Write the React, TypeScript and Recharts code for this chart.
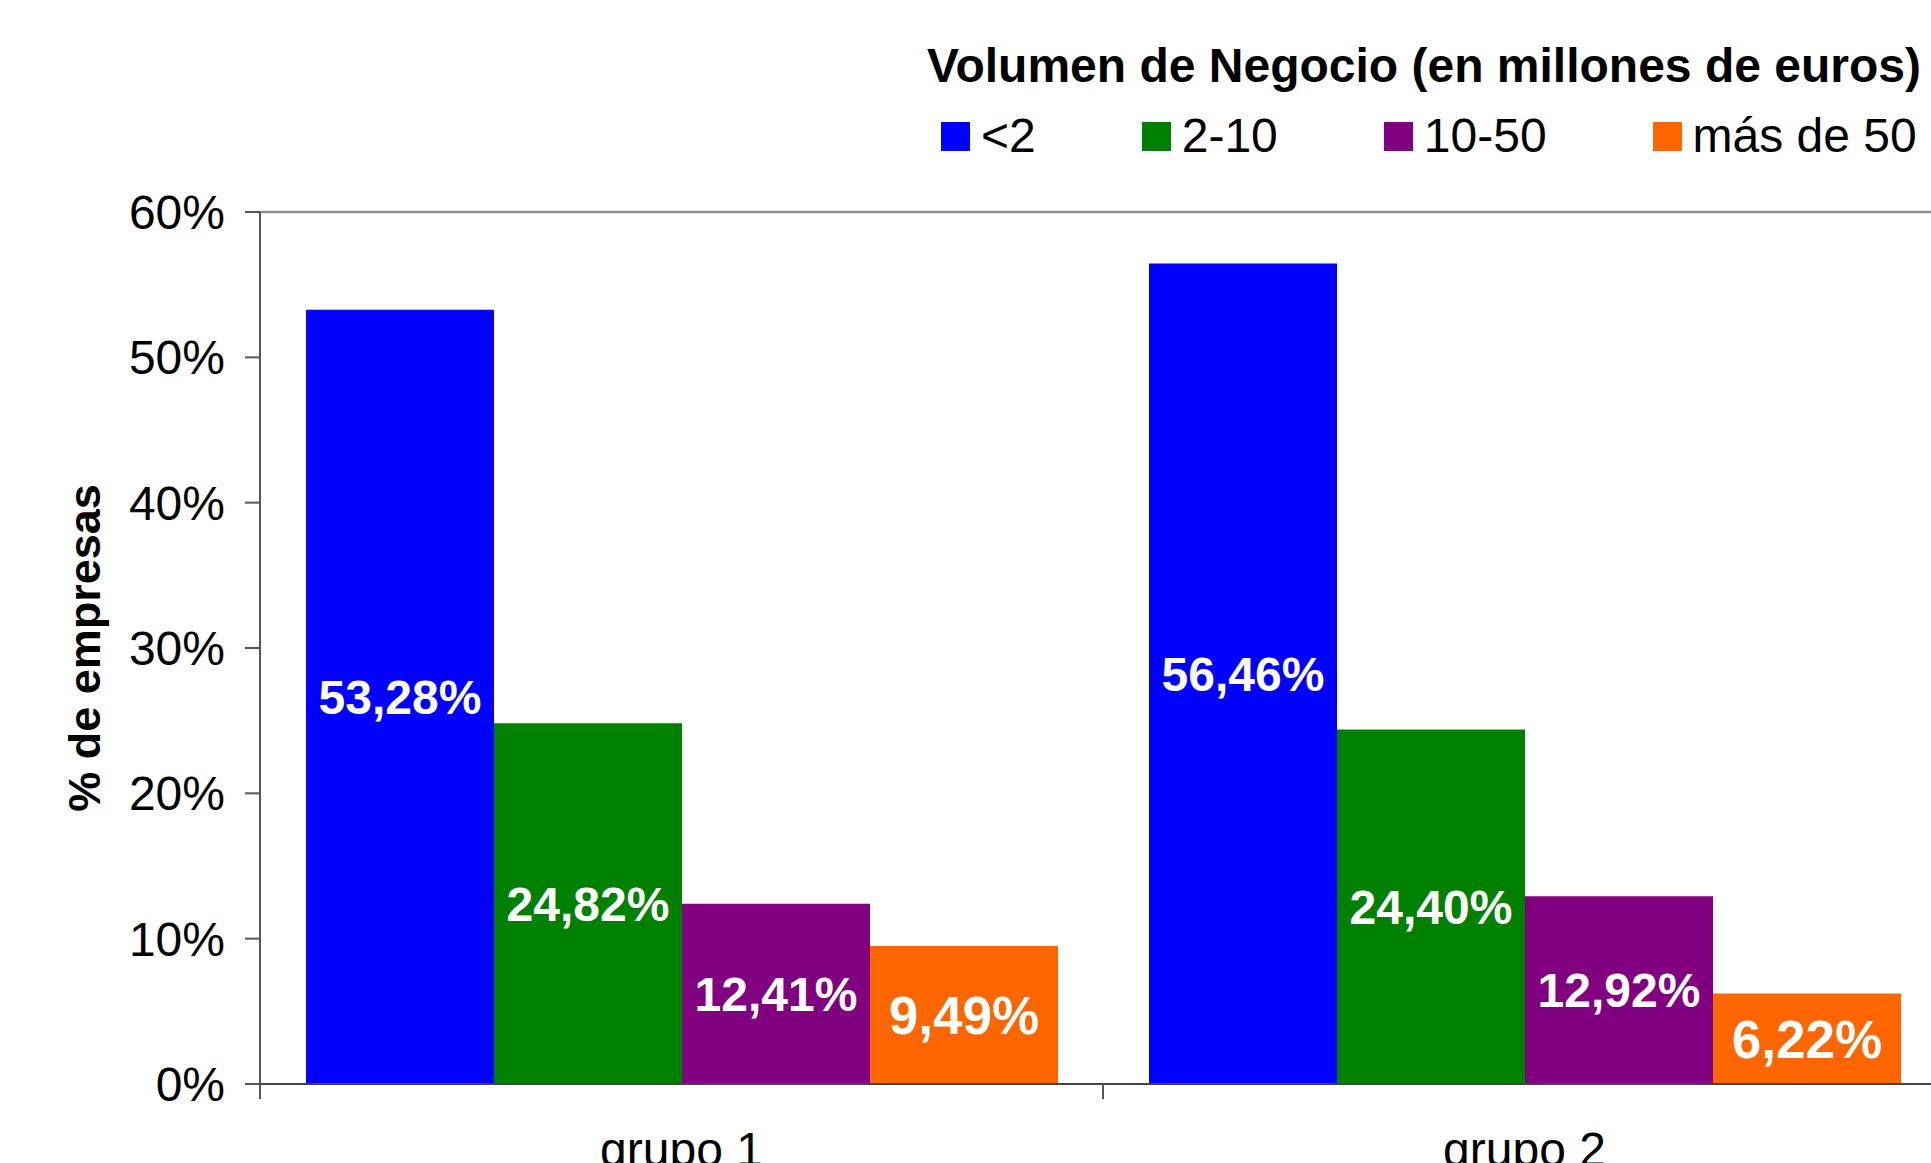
import { BarChart, Bar, XAxis, YAxis, LabelList, Legend, ReferenceLine } from "recharts";

// datos
const groups = ["grupo 1", "grupo 2"];
const menos2 = [53.28, 56.46];
const de2a10 = [24.82, 24.4];
const de10a50 = [12.41, 12.92];
const mas50 = [9.49, 6.22];
const yTicks = [0, 10, 20, 30, 40, 50, 60];
const legendTitle = "Volumen de Negocio (en millones de euros)";
const seriesNames = ["<2", "2-10", "10-50", "más de 50"];
const seriesColors = ["#0000FF", "#008000", "#800080", "#FF6600"];

const data = groups.map((g, i) => ({
  name: g,
  s0: menos2[i],
  s1: de2a10[i],
  s2: de10a50[i],
  s3: mas50[i],
}));

const FONT = '"Liberation Sans", Arial, sans-serif';
const W = 1960;
const H = 1200;
const MARGIN = { top: 212, right: 14, left: 0, bottom: 16 };
const Y_W = 260;
const HALF_BAND = (W - MARGIN.left - MARGIN.right - Y_W) / groups.length / 2;

const fmt = (v: number) => v.toFixed(2).replace(".", ",") + "%";

function GroupTick(props: any) {
  const { x, y, payload } = props;
  return (
    <g>
      <line x1={x - HALF_BAND} x2={x - HALF_BAND} y1={y} y2={y + 15} stroke="#555" strokeWidth={2} />
      <text x={x} y={y + 82} textAnchor="middle" fontSize={48} fontFamily={FONT} fill="#000">
        {payload.value}
      </text>
    </g>
  );
}

function LegendBox() {
  return (
    <div style={{ fontFamily: FONT, color: "#000" }}>
      <div style={{ fontSize: 48, fontWeight: "bold", lineHeight: "48px", whiteSpace: "nowrap" }}>{legendTitle}</div>
      <div style={{ display: "flex", alignItems: "center", marginTop: 22, paddingLeft: 14, height: 48 }}>
        {seriesNames.map((n, i) => (
          <div key={n} style={{ display: "flex", alignItems: "center", marginRight: i < seriesNames.length - 1 ? 106 : 0 }}>
            <div style={{ width: 29, height: 29, background: seriesColors[i], marginRight: 11 }} />
            <span style={{ fontSize: 48, lineHeight: "48px", whiteSpace: "nowrap" }}>{n}</span>
          </div>
        ))}
      </div>
    </div>
  );
}

export default function App() {
  return (
    <div style={{ position: "fixed", left: 0, top: 0, width: 1931, height: 1163, overflow: "hidden", background: "#fff" }}>
      <BarChart width={W} height={H} data={data} margin={MARGIN} barCategoryGap={46} barGap={0}>
        <ReferenceLine y={60} stroke="#8f8f8f" strokeWidth={2.5} />
        <XAxis
          dataKey="name"
          tickLine={false}
          tickSize={0}
          tickMargin={0}
          height={100}
          axisLine={{ stroke: "#444", strokeWidth: 2 }}
          tick={<GroupTick />}
          interval={0}
        />
        <YAxis
          width={Y_W}
          domain={[0, 60]}
          ticks={yTicks}
          tickFormatter={(v: number) => `${v}%`}
          tickSize={15}
          tickMargin={20}
          axisLine={{ stroke: "#555", strokeWidth: 2 }}
          tickLine={{ stroke: "#555", strokeWidth: 2 }}
          tick={{ fontSize: 48, fontFamily: FONT, fill: "#000" }}
          label={{
            content: (p: any) => {
              const vb = p.viewBox || { y: 212, height: 872 };
              const cy = vb.y + vb.height / 2;
              return (
                <text
                  x={100}
                  y={cy}
                  transform={`rotate(-90 100 ${cy})`}
                  textAnchor="middle"
                  fontSize={45}
                  fontWeight="bold"
                  fontFamily={FONT}
                  fill="#000"
                >
                  % de empresas
                </text>
              );
            },
          }}
        />
        <Legend
          layout="horizontal"
          align="center"
          verticalAlign="middle"
          content={<LegendBox />}
          wrapperStyle={{ top: 42, left: 927, width: "auto" }}
        />
        {["s0", "s1", "s2", "s3"].map((k, i) => (
          <Bar key={k} dataKey={k} name={seriesNames[i]} fill={seriesColors[i]} isAnimationActive={false}>
            <LabelList
              dataKey={k}
              position="center"
              formatter={(v: any) => fmt(Number(v))}
              fill="#fff"
              fontSize={i === 3 ? 53 : 48}
              fontWeight="bold"
              fontFamily={FONT}
            />
          </Bar>
        ))}
      </BarChart>
    </div>
  );
}
